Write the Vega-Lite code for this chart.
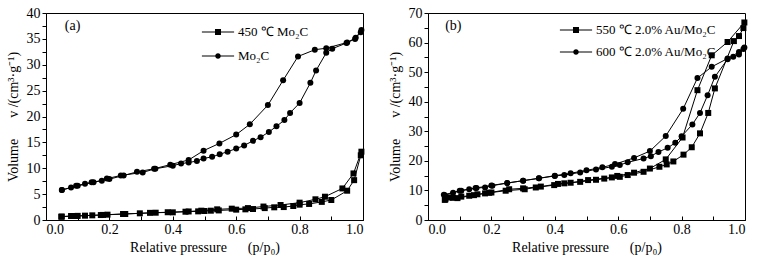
{
  "$schema": "https://vega.github.io/schema/vega-lite/v6.json",
  "padding": {"left": 5, "top": 5, "right": 5, "bottom": 5},
  "spacing": 18,
  "config": {
    "font": "Liberation Serif",
    "view": {"stroke": "black", "strokeWidth": 1},
    "axis": {"grid": false, "domainColor": "black", "tickColor": "black", "labelColor": "black", "titleColor": "black", "labelFont": "Liberation Serif", "titleFont": "Liberation Serif", "labelFontSize": 14, "titleFontSize": 14, "titleFontWeight": "normal", "tickSize": 4, "labelPadding": 2, "labelOverlap": false},
    "legend": {"labelFont": "Liberation Serif", "labelFontSize": 13, "labelColor": "black", "labelLimit": 400}
  },
  "datasets": {
    "a": [
      {"s":"Mo₂C","b":"ads","p":0.05,"v":5.8},{"s":"Mo₂C","b":"ads","p":0.079,"v":6.3},{"s":"Mo₂C","b":"ads","p":0.095,"v":6.6},{"s":"Mo₂C","b":"ads","p":0.123,"v":7.0},{"s":"Mo₂C","b":"ads","p":0.144,"v":7.3},{"s":"Mo₂C","b":"ads","p":0.176,"v":7.6},{"s":"Mo₂C","b":"ads","p":0.192,"v":8.0},{"s":"Mo₂C","b":"ads","p":0.236,"v":8.6},{"s":"Mo₂C","b":"ads","p":0.305,"v":9.2},{"s":"Mo₂C","b":"ads","p":0.345,"v":9.9},{"s":"Mo₂C","b":"ads","p":0.40,"v":10.5},{"s":"Mo₂C","b":"ads","p":0.426,"v":10.9},{"s":"Mo₂C","b":"ads","p":0.45,"v":11.1},{"s":"Mo₂C","b":"ads","p":0.476,"v":11.4},{"s":"Mo₂C","b":"ads","p":0.497,"v":11.9},{"s":"Mo₂C","b":"ads","p":0.524,"v":12.2},{"s":"Mo₂C","b":"ads","p":0.548,"v":12.7},{"s":"Mo₂C","b":"ads","p":0.573,"v":13.2},{"s":"Mo₂C","b":"ads","p":0.60,"v":13.8},{"s":"Mo₂C","b":"ads","p":0.625,"v":14.4},{"s":"Mo₂C","b":"ads","p":0.653,"v":15.3},{"s":"Mo₂C","b":"ads","p":0.677,"v":16.0},{"s":"Mo₂C","b":"ads","p":0.703,"v":17.0},{"s":"Mo₂C","b":"ads","p":0.727,"v":18.1},{"s":"Mo₂C","b":"ads","p":0.752,"v":19.3},{"s":"Mo₂C","b":"ads","p":0.77,"v":20.7},{"s":"Mo₂C","b":"ads","p":0.80,"v":22.6},{"s":"Mo₂C","b":"ads","p":0.834,"v":26.5},{"s":"Mo₂C","b":"ads","p":0.852,"v":28.9},{"s":"Mo₂C","b":"ads","p":0.884,"v":32.3},{"s":"Mo₂C","b":"ads","p":0.903,"v":33.1},{"s":"Mo₂C","b":"ads","p":0.948,"v":34.2},{"s":"Mo₂C","b":"ads","p":0.975,"v":35.0},{"s":"Mo₂C","b":"ads","p":0.993,"v":36.3},
      {"s":"Mo₂C","b":"des","p":0.995,"v":36.7},{"s":"Mo₂C","b":"des","p":0.977,"v":35.2},{"s":"Mo₂C","b":"des","p":0.95,"v":34.3},{"s":"Mo₂C","b":"des","p":0.884,"v":33.2},{"s":"Mo₂C","b":"des","p":0.848,"v":32.9},{"s":"Mo₂C","b":"des","p":0.795,"v":31.6},{"s":"Mo₂C","b":"des","p":0.748,"v":27.0},{"s":"Mo₂C","b":"des","p":0.70,"v":22.2},{"s":"Mo₂C","b":"des","p":0.643,"v":18.5},{"s":"Mo₂C","b":"des","p":0.60,"v":16.5},{"s":"Mo₂C","b":"des","p":0.547,"v":14.8},{"s":"Mo₂C","b":"des","p":0.497,"v":13.4},{"s":"Mo₂C","b":"des","p":0.45,"v":11.6},{"s":"Mo₂C","b":"des","p":0.392,"v":10.7},{"s":"Mo₂C","b":"des","p":0.341,"v":9.9},{"s":"Mo₂C","b":"des","p":0.287,"v":9.3},{"s":"Mo₂C","b":"des","p":0.245,"v":8.6},{"s":"Mo₂C","b":"des","p":0.20,"v":7.9},{"s":"Mo₂C","b":"des","p":0.15,"v":7.3},{"s":"Mo₂C","b":"des","p":0.10,"v":6.6},{"s":"Mo₂C","b":"des","p":0.05,"v":5.8},
      {"s":"450 ℃ Mo₂C","b":"ads","p":0.048,"v":0.64},{"s":"450 ℃ Mo₂C","b":"ads","p":0.079,"v":0.77},{"s":"450 ℃ Mo₂C","b":"ads","p":0.097,"v":0.77},{"s":"450 ℃ Mo₂C","b":"ads","p":0.123,"v":0.84},{"s":"450 ℃ Mo₂C","b":"ads","p":0.146,"v":0.9},{"s":"450 ℃ Mo₂C","b":"ads","p":0.173,"v":0.96},{"s":"450 ℃ Mo₂C","b":"ads","p":0.194,"v":1.03},{"s":"450 ℃ Mo₂C","b":"ads","p":0.243,"v":1.16},{"s":"450 ℃ Mo₂C","b":"ads","p":0.296,"v":1.29},{"s":"450 ℃ Mo₂C","b":"ads","p":0.346,"v":1.41},{"s":"450 ℃ Mo₂C","b":"ads","p":0.40,"v":1.48},{"s":"450 ℃ Mo₂C","b":"ads","p":0.44,"v":1.6},{"s":"450 ℃ Mo₂C","b":"ads","p":0.48,"v":1.67},{"s":"450 ℃ Mo₂C","b":"ads","p":0.50,"v":1.74},{"s":"450 ℃ Mo₂C","b":"ads","p":0.52,"v":1.8},{"s":"450 ℃ Mo₂C","b":"ads","p":0.545,"v":1.85},{"s":"450 ℃ Mo₂C","b":"ads","p":0.60,"v":2.0},{"s":"450 ℃ Mo₂C","b":"ads","p":0.629,"v":2.06},{"s":"450 ℃ Mo₂C","b":"ads","p":0.653,"v":2.12},{"s":"450 ℃ Mo₂C","b":"ads","p":0.69,"v":2.3},{"s":"450 ℃ Mo₂C","b":"ads","p":0.72,"v":2.45},{"s":"450 ℃ Mo₂C","b":"ads","p":0.75,"v":2.5},{"s":"450 ℃ Mo₂C","b":"ads","p":0.78,"v":2.7},{"s":"450 ℃ Mo₂C","b":"ads","p":0.80,"v":2.96},{"s":"450 ℃ Mo₂C","b":"ads","p":0.83,"v":3.1},{"s":"450 ℃ Mo₂C","b":"ads","p":0.87,"v":3.5},{"s":"450 ℃ Mo₂C","b":"ads","p":0.90,"v":3.86},{"s":"450 ℃ Mo₂C","b":"ads","p":0.95,"v":5.66},{"s":"450 ℃ Mo₂C","b":"ads","p":0.972,"v":7.7},{"s":"450 ℃ Mo₂C","b":"ads","p":0.993,"v":12.5},
      {"s":"450 ℃ Mo₂C","b":"des","p":0.995,"v":13.2},{"s":"450 ℃ Mo₂C","b":"des","p":0.97,"v":9.0},{"s":"450 ℃ Mo₂C","b":"des","p":0.935,"v":6.1},{"s":"450 ℃ Mo₂C","b":"des","p":0.88,"v":4.5},{"s":"450 ℃ Mo₂C","b":"des","p":0.85,"v":4.0},{"s":"450 ℃ Mo₂C","b":"des","p":0.80,"v":3.35},{"s":"450 ℃ Mo₂C","b":"des","p":0.74,"v":2.9},{"s":"450 ℃ Mo₂C","b":"des","p":0.686,"v":2.6},{"s":"450 ℃ Mo₂C","b":"des","p":0.637,"v":2.3},{"s":"450 ℃ Mo₂C","b":"des","p":0.586,"v":2.19},{"s":"450 ℃ Mo₂C","b":"des","p":0.54,"v":2.06},{"s":"450 ℃ Mo₂C","b":"des","p":0.49,"v":1.8},{"s":"450 ℃ Mo₂C","b":"des","p":0.45,"v":1.65},{"s":"450 ℃ Mo₂C","b":"des","p":0.384,"v":1.5},{"s":"450 ℃ Mo₂C","b":"des","p":0.328,"v":1.38},{"s":"450 ℃ Mo₂C","b":"des","p":0.25,"v":1.16},{"s":"450 ℃ Mo₂C","b":"des","p":0.18,"v":0.98},{"s":"450 ℃ Mo₂C","b":"des","p":0.10,"v":0.8},{"s":"450 ℃ Mo₂C","b":"des","p":0.05,"v":0.66}
    ],
    "b": [
      {"s":"550 ℃ 2.0% Au/Mo₂C","b":"ads","p":0.053,"v":6.8},{"s":"550 ℃ 2.0% Au/Mo₂C","b":"ads","p":0.065,"v":7.6},{"s":"550 ℃ 2.0% Au/Mo₂C","b":"ads","p":0.079,"v":7.5},{"s":"550 ℃ 2.0% Au/Mo₂C","b":"ads","p":0.105,"v":7.9},{"s":"550 ℃ 2.0% Au/Mo₂C","b":"ads","p":0.13,"v":8.2},{"s":"550 ℃ 2.0% Au/Mo₂C","b":"ads","p":0.156,"v":8.7},{"s":"550 ℃ 2.0% Au/Mo₂C","b":"ads","p":0.18,"v":9.0},{"s":"550 ℃ 2.0% Au/Mo₂C","b":"ads","p":0.20,"v":9.3},{"s":"550 ℃ 2.0% Au/Mo₂C","b":"ads","p":0.245,"v":9.9},{"s":"550 ℃ 2.0% Au/Mo₂C","b":"ads","p":0.305,"v":10.4},{"s":"550 ℃ 2.0% Au/Mo₂C","b":"ads","p":0.34,"v":11.0},{"s":"550 ℃ 2.0% Au/Mo₂C","b":"ads","p":0.398,"v":11.8},{"s":"550 ℃ 2.0% Au/Mo₂C","b":"ads","p":0.43,"v":12.4},{"s":"550 ℃ 2.0% Au/Mo₂C","b":"ads","p":0.48,"v":12.9},{"s":"550 ℃ 2.0% Au/Mo₂C","b":"ads","p":0.53,"v":13.6},{"s":"550 ℃ 2.0% Au/Mo₂C","b":"ads","p":0.556,"v":14.0},{"s":"550 ℃ 2.0% Au/Mo₂C","b":"ads","p":0.605,"v":14.6},{"s":"550 ℃ 2.0% Au/Mo₂C","b":"ads","p":0.63,"v":15.2},{"s":"550 ℃ 2.0% Au/Mo₂C","b":"ads","p":0.68,"v":16.3},{"s":"550 ℃ 2.0% Au/Mo₂C","b":"ads","p":0.73,"v":18.0},{"s":"550 ℃ 2.0% Au/Mo₂C","b":"ads","p":0.753,"v":18.8},{"s":"550 ℃ 2.0% Au/Mo₂C","b":"ads","p":0.774,"v":19.8},{"s":"550 ℃ 2.0% Au/Mo₂C","b":"ads","p":0.806,"v":22.1},{"s":"550 ℃ 2.0% Au/Mo₂C","b":"ads","p":0.832,"v":24.6},{"s":"550 ℃ 2.0% Au/Mo₂C","b":"ads","p":0.858,"v":29.3},{"s":"550 ℃ 2.0% Au/Mo₂C","b":"ads","p":0.884,"v":36.2},{"s":"550 ℃ 2.0% Au/Mo₂C","b":"ads","p":0.905,"v":44.5},{"s":"550 ℃ 2.0% Au/Mo₂C","b":"ads","p":0.965,"v":60.5},{"s":"550 ℃ 2.0% Au/Mo₂C","b":"ads","p":0.981,"v":62.2},{"s":"550 ℃ 2.0% Au/Mo₂C","b":"ads","p":0.995,"v":64.9},
      {"s":"550 ℃ 2.0% Au/Mo₂C","b":"des","p":0.998,"v":66.8},{"s":"550 ℃ 2.0% Au/Mo₂C","b":"des","p":0.945,"v":60.2},{"s":"550 ℃ 2.0% Au/Mo₂C","b":"des","p":0.895,"v":55.7},{"s":"550 ℃ 2.0% Au/Mo₂C","b":"des","p":0.85,"v":43.9},{"s":"550 ℃ 2.0% Au/Mo₂C","b":"des","p":0.803,"v":27.9},{"s":"550 ℃ 2.0% Au/Mo₂C","b":"des","p":0.75,"v":20.5},{"s":"550 ℃ 2.0% Au/Mo₂C","b":"des","p":0.70,"v":17.4},{"s":"550 ℃ 2.0% Au/Mo₂C","b":"des","p":0.65,"v":16.0},{"s":"550 ℃ 2.0% Au/Mo₂C","b":"des","p":0.597,"v":14.9},{"s":"550 ℃ 2.0% Au/Mo₂C","b":"des","p":0.58,"v":14.4},{"s":"550 ℃ 2.0% Au/Mo₂C","b":"des","p":0.505,"v":13.5},{"s":"550 ℃ 2.0% Au/Mo₂C","b":"des","p":0.45,"v":12.6},{"s":"550 ℃ 2.0% Au/Mo₂C","b":"des","p":0.41,"v":12.2},{"s":"550 ℃ 2.0% Au/Mo₂C","b":"des","p":0.356,"v":11.3},{"s":"550 ℃ 2.0% Au/Mo₂C","b":"des","p":0.30,"v":10.7},{"s":"550 ℃ 2.0% Au/Mo₂C","b":"des","p":0.256,"v":10.4},{"s":"550 ℃ 2.0% Au/Mo₂C","b":"des","p":0.193,"v":9.2},{"s":"550 ℃ 2.0% Au/Mo₂C","b":"des","p":0.145,"v":8.4},{"s":"550 ℃ 2.0% Au/Mo₂C","b":"des","p":0.093,"v":7.4},{"s":"550 ℃ 2.0% Au/Mo₂C","b":"des","p":0.055,"v":7.0},
      {"s":"600 ℃ 2.0% Au/Mo₂C","b":"ads","p":0.053,"v":8.4},{"s":"600 ℃ 2.0% Au/Mo₂C","b":"ads","p":0.079,"v":9.2},{"s":"600 ℃ 2.0% Au/Mo₂C","b":"ads","p":0.105,"v":9.9},{"s":"600 ℃ 2.0% Au/Mo₂C","b":"ads","p":0.13,"v":10.4},{"s":"600 ℃ 2.0% Au/Mo₂C","b":"ads","p":0.153,"v":10.8},{"s":"600 ℃ 2.0% Au/Mo₂C","b":"ads","p":0.18,"v":11.0},{"s":"600 ℃ 2.0% Au/Mo₂C","b":"ads","p":0.203,"v":11.6},{"s":"600 ℃ 2.0% Au/Mo₂C","b":"ads","p":0.25,"v":12.5},{"s":"600 ℃ 2.0% Au/Mo₂C","b":"ads","p":0.30,"v":13.3},{"s":"600 ℃ 2.0% Au/Mo₂C","b":"ads","p":0.35,"v":14.1},{"s":"600 ℃ 2.0% Au/Mo₂C","b":"ads","p":0.40,"v":14.9},{"s":"600 ℃ 2.0% Au/Mo₂C","b":"ads","p":0.43,"v":15.2},{"s":"600 ℃ 2.0% Au/Mo₂C","b":"ads","p":0.48,"v":16.1},{"s":"600 ℃ 2.0% Au/Mo₂C","b":"ads","p":0.53,"v":17.1},{"s":"600 ℃ 2.0% Au/Mo₂C","b":"ads","p":0.58,"v":18.0},{"s":"600 ℃ 2.0% Au/Mo₂C","b":"ads","p":0.605,"v":18.6},{"s":"600 ℃ 2.0% Au/Mo₂C","b":"ads","p":0.63,"v":19.5},{"s":"600 ℃ 2.0% Au/Mo₂C","b":"ads","p":0.68,"v":20.8},{"s":"600 ℃ 2.0% Au/Mo₂C","b":"ads","p":0.703,"v":21.6},{"s":"600 ℃ 2.0% Au/Mo₂C","b":"ads","p":0.727,"v":23.0},{"s":"600 ℃ 2.0% Au/Mo₂C","b":"ads","p":0.756,"v":24.4},{"s":"600 ℃ 2.0% Au/Mo₂C","b":"ads","p":0.78,"v":26.1},{"s":"600 ℃ 2.0% Au/Mo₂C","b":"ads","p":0.80,"v":28.3},{"s":"600 ℃ 2.0% Au/Mo₂C","b":"ads","p":0.834,"v":32.3},{"s":"600 ℃ 2.0% Au/Mo₂C","b":"ads","p":0.858,"v":36.2},{"s":"600 ℃ 2.0% Au/Mo₂C","b":"ads","p":0.882,"v":42.2},{"s":"600 ℃ 2.0% Au/Mo₂C","b":"ads","p":0.905,"v":48.4},{"s":"600 ℃ 2.0% Au/Mo₂C","b":"ads","p":0.945,"v":54.4},{"s":"600 ℃ 2.0% Au/Mo₂C","b":"ads","p":0.963,"v":55.2},{"s":"600 ℃ 2.0% Au/Mo₂C","b":"ads","p":0.981,"v":56.0},{"s":"600 ℃ 2.0% Au/Mo₂C","b":"ads","p":0.995,"v":57.8},
      {"s":"600 ℃ 2.0% Au/Mo₂C","b":"des","p":0.998,"v":58.3},{"s":"600 ℃ 2.0% Au/Mo₂C","b":"des","p":0.981,"v":56.8},{"s":"600 ℃ 2.0% Au/Mo₂C","b":"des","p":0.945,"v":54.6},{"s":"600 ℃ 2.0% Au/Mo₂C","b":"des","p":0.895,"v":51.8},{"s":"600 ℃ 2.0% Au/Mo₂C","b":"des","p":0.85,"v":48.0},{"s":"600 ℃ 2.0% Au/Mo₂C","b":"des","p":0.805,"v":37.6},{"s":"600 ℃ 2.0% Au/Mo₂C","b":"des","p":0.75,"v":28.4},{"s":"600 ℃ 2.0% Au/Mo₂C","b":"des","p":0.70,"v":23.3},{"s":"600 ℃ 2.0% Au/Mo₂C","b":"des","p":0.65,"v":21.0},{"s":"600 ℃ 2.0% Au/Mo₂C","b":"des","p":0.59,"v":18.9},{"s":"600 ℃ 2.0% Au/Mo₂C","b":"des","p":0.55,"v":17.8},{"s":"600 ℃ 2.0% Au/Mo₂C","b":"des","p":0.50,"v":16.8},{"s":"600 ℃ 2.0% Au/Mo₂C","b":"des","p":0.45,"v":15.8},{"s":"600 ℃ 2.0% Au/Mo₂C","b":"des","p":0.40,"v":15.0},{"s":"600 ℃ 2.0% Au/Mo₂C","b":"des","p":0.35,"v":14.1},{"s":"600 ℃ 2.0% Au/Mo₂C","b":"des","p":0.30,"v":13.3},{"s":"600 ℃ 2.0% Au/Mo₂C","b":"des","p":0.25,"v":12.5},{"s":"600 ℃ 2.0% Au/Mo₂C","b":"des","p":0.20,"v":11.7},{"s":"600 ℃ 2.0% Au/Mo₂C","b":"des","p":0.15,"v":10.8},{"s":"600 ℃ 2.0% Au/Mo₂C","b":"des","p":0.10,"v":9.9},{"s":"600 ℃ 2.0% Au/Mo₂C","b":"des","p":0.05,"v":8.5}
    ]
  },
  "hconcat": [
    {
      "width": 317, "height": 207,
      "data": {"name": "a"},
      "resolve": {"scale": {"shape": "independent"}, "legend": {"shape": "independent"}},
      "encoding": {
        "x": {"field": "p", "type": "quantitative", "scale": {"domain": [0, 1], "nice": false},
              "axis": {"title": "Relative pressure\u00a0\u00a0\u00a0\u00a0\u00a0\u00a0(p/p₀)", "values": [0,0.1,0.2,0.3,0.4,0.5,0.6,0.7,0.8,0.9,1.0], "labelExpr": "round(datum.value*10) % 2 == 0 ? format(datum.value, '.1f') : ''", "labelOverlap": false, "tickSize": -4, "labelPadding": 6, "titlePadding": 4}},
        "y": {"field": "v", "type": "quantitative", "scale": {"domain": [0, 40], "nice": false},
              "axis": {"title": "Volume\u00a0\u00a0\u00a0\u00a0\u00a0\u00a0v /(cm³·g⁻¹)", "values": [0,2.5,5,7.5,10,12.5,15,17.5,20,22.5,25,27.5,30,32.5,35,37.5,40], "labelExpr": "round(datum.value*2) % 10 == 0 ? format(datum.value, 'd') : ''", "labelOverlap": false, "titlePadding": 6}}
      },
      "layer": [
        {"mark": {"type": "line", "color": "black", "strokeWidth": 1},
         "encoding": {"detail": [{"field": "s"}, {"field": "b"}]}},
        {"mark": {"type": "point", "filled": true, "color": "black", "opacity": 1},
         "encoding": {
           "shape": {"field": "s", "type": "nominal", "scale": {"domain": ["450 ℃ Mo₂C", "Mo₂C"], "range": ["square", "circle"]}, "legend": null},
           "size": {"value": 36}
         }},
        {"mark": {"type": "point", "filled": true, "color": "black", "opacity": 0},
         "encoding": {
           "shape": {"field": "s", "type": "nominal",
             "scale": {"domain": ["450 ℃ Mo₂C", "Mo₂C"], "range": ["M-2.3,-0.07H2.3V0.07H-2.3ZM-0.43,-0.43H0.43V0.43H-0.43Z", "M-2.3,-0.07H2.3V0.07H-2.3ZM0.4,0A0.4,0.4 0 1,1 -0.4,0A0.4,0.4 0 1,1 0.4,0Z"]},
             "legend": {"title": null, "orient": "none", "legendX": 165, "legendY": 12, "symbolSize": 196, "symbolOpacity": 1, "symbolFillColor": "black", "symbolStrokeColor": "black", "symbolStrokeWidth": 0, "labelOffset": 13, "rowPadding": 10, "labelFontSize": 13}}
         }},
        {"data": {"values": [{"p": 0.084, "v": 37.4, "t": "(a)"}]},
         "mark": {"type": "text", "fontSize": 14, "color": "black", "baseline": "middle"},
         "encoding": {"text": {"field": "t"}}}
      ]
    },
    {
      "width": 317, "height": 207,
      "data": {"name": "b"},
      "resolve": {"scale": {"shape": "independent"}, "legend": {"shape": "independent"}},
      "encoding": {
        "x": {"field": "p", "type": "quantitative", "scale": {"domain": [0, 1], "nice": false},
              "axis": {"title": "Relative pressure\u00a0\u00a0\u00a0\u00a0\u00a0\u00a0(p/p₀)", "values": [0,0.1,0.2,0.3,0.4,0.5,0.6,0.7,0.8,0.9,1.0], "labelExpr": "round(datum.value*10) % 2 == 0 ? format(datum.value, '.1f') : ''", "labelOverlap": false, "tickSize": -4, "labelPadding": 6, "titlePadding": 4}},
        "y": {"field": "v", "type": "quantitative", "scale": {"domain": [0, 70], "nice": false},
              "axis": {"title": "Volume\u00a0\u00a0\u00a0\u00a0\u00a0\u00a0v /(cm³·g⁻¹)", "values": [0,5,10,15,20,25,30,35,40,45,50,55,60,65,70], "labelExpr": "round(datum.value) % 10 == 0 ? format(datum.value, 'd') : ''", "labelOverlap": false, "titlePadding": 6}}
      },
      "layer": [
        {"mark": {"type": "line", "color": "black", "strokeWidth": 1},
         "encoding": {"detail": [{"field": "s"}, {"field": "b"}]}},
        {"mark": {"type": "point", "filled": true, "color": "black", "opacity": 1},
         "encoding": {
           "shape": {"field": "s", "type": "nominal", "scale": {"domain": ["550 ℃ 2.0% Au/Mo₂C", "600 ℃ 2.0% Au/Mo₂C"], "range": ["square", "circle"]}, "legend": null},
           "size": {"value": 36}
         }},
        {"mark": {"type": "point", "filled": true, "color": "black", "opacity": 0},
         "encoding": {
           "shape": {"field": "s", "type": "nominal",
             "scale": {"domain": ["550 ℃ 2.0% Au/Mo₂C", "600 ℃ 2.0% Au/Mo₂C"], "range": ["M-2.3,-0.07H2.3V0.07H-2.3ZM-0.43,-0.43H0.43V0.43H-0.43Z", "M-2.3,-0.07H2.3V0.07H-2.3ZM0.4,0A0.4,0.4 0 1,1 -0.4,0A0.4,0.4 0 1,1 0.4,0Z"]},
             "legend": {"title": null, "orient": "none", "legendX": 141, "legendY": 10, "symbolSize": 196, "symbolOpacity": 1, "symbolFillColor": "black", "symbolStrokeColor": "black", "symbolStrokeWidth": 0, "labelOffset": 13, "rowPadding": 8, "labelFontSize": 13}}
         }},
        {"data": {"values": [{"p": 0.08, "v": 65.5, "t": "(b)"}]},
         "mark": {"type": "text", "fontSize": 14, "color": "black", "baseline": "middle"},
         "encoding": {"text": {"field": "t"}}}
      ]
    }
  ]
}
